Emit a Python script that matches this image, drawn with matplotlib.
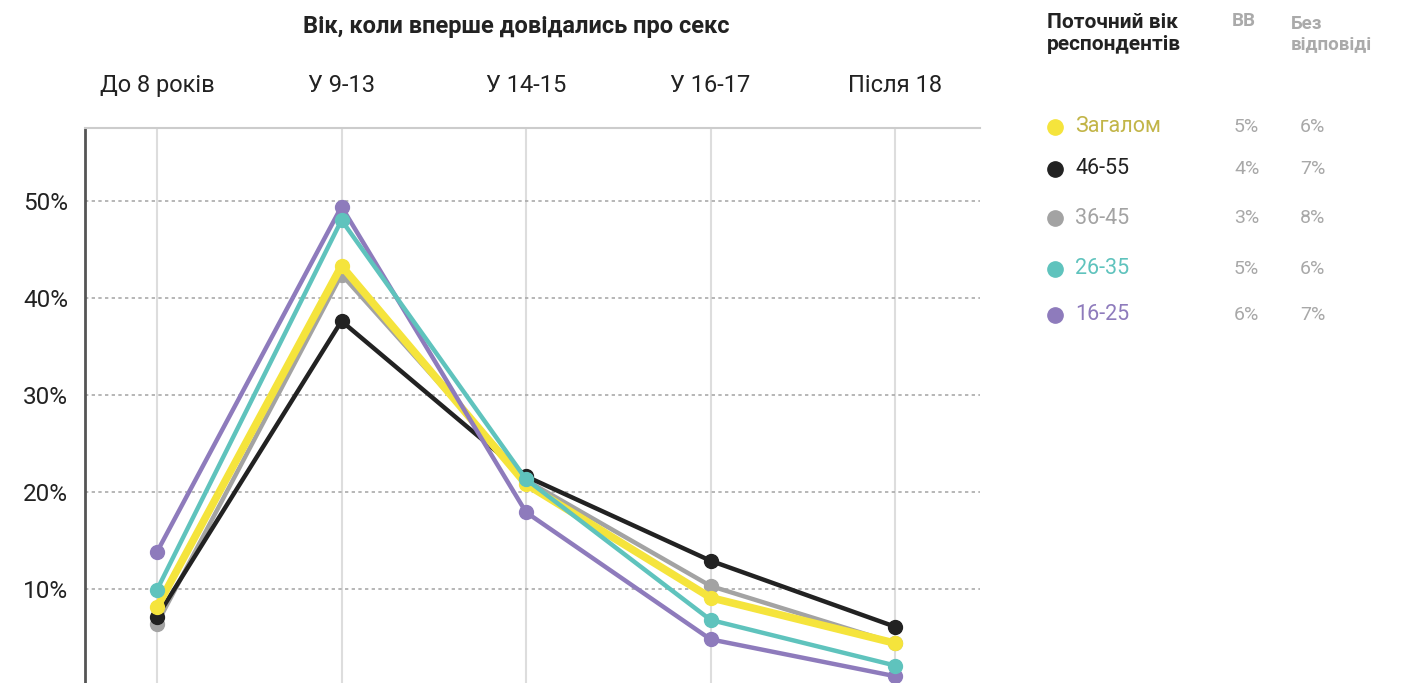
import matplotlib
matplotlib.use("Agg")
from matplotlib import pyplot as plt

plt.rcParams['font.family'] = ['Roboto', 'DejaVu Sans']

categories = ["До 8 років", "У 9-13", "У 14-15", "У 16-17", "Після 18"]

groups = ["Загалом", "46-55", "36-45", "26-35", "16-25"]
values = {
    "Загалом": [8.1, 43.3, 20.8, 9.1, 4.4],
    "46-55": [7.1, 37.6, 21.6, 12.9, 6.1],
    "36-45": [6.4, 42.4, 21.2, 10.3, 4.4],
    "26-35": [9.9, 48.0, 21.3, 6.8, 2.1],
    "16-25": [13.8, 49.4, 17.9, 4.8, 1.0],
}
vv = ["5%", "4%", "3%", "5%", "6%"]
no_answer = ["6%", "7%", "8%", "6%", "7%"]

colors = {
    "Загалом": "#F5E43C",
    "46-55": "#222222",
    "36-45": "#A3A3A3",
    "26-35": "#5FC3BD",
    "16-25": "#8E7BBC",
}
text_colors = {
    "Загалом": "#C2B548",
    "46-55": "#222222",
    "36-45": "#A3A3A3",
    "26-35": "#5FC3BD",
    "16-25": "#8E7BBC",
}
# drawing order, bottom to top
draw_order = ["36-45", "46-55", "Загалом", "16-25", "26-35"]

fig = plt.figure(figsize=(14.05, 6.83), dpi=100)
ax = fig.add_axes([0.0605, 0.0, 0.637, 0.8126])

x = list(range(len(categories)))
for g in draw_order:
    lw = 5.5 if g == "Загалом" else 3.2
    ax.plot(x, values[g], color=colors[g], lw=lw, marker="o", ms=10,
            solid_capstyle="round", zorder=3)

ax.set_xlim(-0.39, 4.46)
ax.set_ylim(0.3, 57.5)
ax.set_xticks(x)
ax.set_xticklabels(categories, fontsize=17, color="#222222")
ax.xaxis.tick_top()
ax.tick_params(axis="x", length=0, pad=22)
ax.set_yticks([10, 20, 30, 40, 50])
ax.set_yticklabels(["10%", "20%", "30%", "40%", "50%"], fontsize=17.5, color="#222222")
ax.tick_params(axis="y", length=0, pad=12)

ax.grid(axis="x", color="#DDDDDD", lw=1.5, zorder=0)
ax.grid(axis="y", color="#AAAAAA", lw=1.2, linestyle=(0, (2, 2)), zorder=0)
ax.set_axisbelow(True)

for s in ["right", "bottom"]:
    ax.spines[s].set_visible(False)
ax.spines["left"].set_color("#555555")
ax.spines["left"].set_linewidth(2)
ax.spines["top"].set_color("#CCCCCC")
ax.spines["top"].set_linewidth(1.5)

fig.text(516 / 1405, 1 - 26 / 683, "Вік, коли вперше довідались про секс", ha="center", va="center",
         fontsize=17, fontweight="bold", color="#222222")

# legend table
fig.text(1047 / 1405, 1 - 34 / 683, "Поточний вік\nреспондентів", ha="left", va="center",
         fontsize=15, fontweight="bold", color="#222222", linespacing=1.2)
fig.text(1232 / 1405, 1 - 21 / 683, "ВВ", ha="left", va="center",
         fontsize=13.5, fontweight="bold", color="#AAAAAA")
fig.text(1291 / 1405, 1 - 34 / 683, "Без\nвідповіді", ha="left", va="center",
         fontsize=13.5, fontweight="bold", color="#AAAAAA", linespacing=1.2)

rows_y = [127, 169, 218, 269, 315]
for g, yy, a, b in zip(groups, rows_y, vv, no_answer):
    fy = 1 - yy / 683
    fig.lines.append(plt.Line2D([1055 / 1405], [fy], marker="o", ms=11, color=colors[g],
                                transform=fig.transFigure))
    fig.text(1075 / 1405, fy, g, ha="left", va="center", fontsize=15.5, color=text_colors[g])
    fig.text(1234 / 1405, fy, a, ha="left", va="center", fontsize=14, color="#A8A8A8")
    fig.text(1300 / 1405, fy, b, ha="left", va="center", fontsize=14, color="#A8A8A8")

fig.savefig("out.png", dpi=100)
